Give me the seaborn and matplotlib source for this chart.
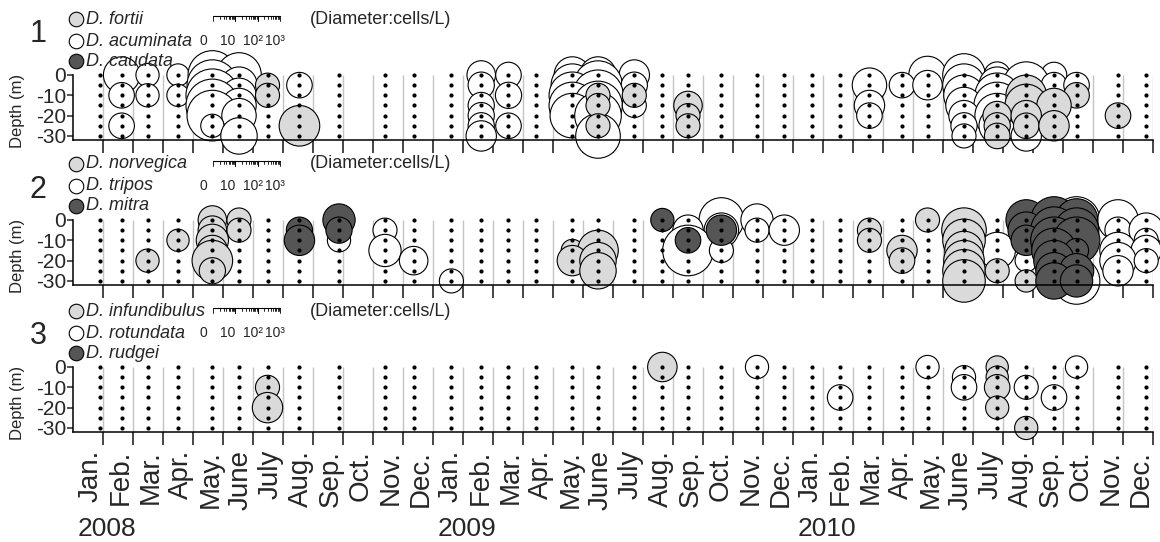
import pandas as pd
import matplotlib.pyplot as plt
from matplotlib.lines import Line2D
from matplotlib.transforms import blended_transform_factory
import numpy as np
import seaborn as sns

# sampling dates (same cruise schedule for all three panels)
sample_dates = ['2008-01-29', '2008-02-19', '2008-03-16', '2008-04-16', '2008-05-21',
                '2008-06-17', '2008-07-16', '2008-08-18', '2008-09-27', '2008-11-13',
                '2008-12-12', '2009-01-20', '2009-02-18', '2009-03-17', '2009-04-14',
                '2009-05-21', '2009-06-16', '2009-07-23', '2009-08-21', '2009-09-16',
                '2009-10-20', '2009-11-25', '2009-12-23', '2010-01-21', '2010-02-17',
                '2010-03-18', '2010-04-20', '2010-05-16', '2010-06-22', '2010-07-26',
                '2010-08-25', '2010-09-22', '2010-10-15', '2010-11-26', '2010-12-25']
sample_depths = [0, -5, -10, -15, -20, -25, -30]

month_labels = ['Jan.', 'Feb.', 'Mar.', 'Apr.', 'May.', 'June', 'July',
                'Aug.', 'Sep.', 'Oct.', 'Nov.', 'Dec.']
years = ['2008', '2009', '2010']
scale_labels = ['0', '10', '10\u00b2', '10\u00b3']
depth_ticks = [0, -10, -20, -30]

panel_names = ['1', '2', '3']
panel_species = [['D. fortii', 'D. acuminata', 'D. caudata'],
                 ['D. norvegica', 'D. tripos', 'D. mitra'],
                 ['D. infundibulus', 'D. rotundata', 'D. rudgei']]

# (date, depth m, cells/L)
fortii = [('2008-07-16', -5, 12), ('2008-07-16', -10, 12), ('2008-08-18', -25, 66),
          ('2009-06-16', -10, 12), ('2009-06-16', -15, 12), ('2009-06-16', -25, 12),
          ('2009-07-23', -10, 12),
          ('2009-09-16', -15, 19), ('2009-09-16', -20, 12), ('2009-09-16', -25, 12),
          ('2010-07-26', -20, 19), ('2010-07-26', -25, 15), ('2010-07-26', -30, 14),
          ('2010-08-25', -10, 66), ('2010-08-25', -15, 81), ('2010-08-25', -20, 23),
          ('2010-08-25', -25, 14),
          ('2010-09-22', -15, 35), ('2010-09-22', -25, 23),
          ('2010-10-15', -10, 14), ('2010-11-26', -20, 14)]
acuminata = [('2008-02-19', 0, 43), ('2008-02-19', -10, 14), ('2008-02-19', -25, 14),
             ('2008-03-16', 0, 11), ('2008-03-16', -10, 11),
             ('2008-04-16', 0, 10), ('2008-04-16', -10, 10),
             ('2008-05-21', 0, 152), ('2008-05-21', -5, 187), ('2008-05-21', -10, 232),
             ('2008-05-21', -15, 232), ('2008-05-21', -20, 187), ('2008-05-21', -25, 11),
             ('2008-06-17', 0, 100), ('2008-06-17', -5, 43), ('2008-06-17', -10, 35),
             ('2008-06-17', -15, 35), ('2008-06-17', -20, 35), ('2008-06-17', -30, 43),
             ('2008-08-18', -5, 14),
             ('2009-02-18', 0, 19), ('2009-02-18', -5, 15), ('2009-02-18', -15, 15),
             ('2009-02-18', -20, 15), ('2009-02-18', -25, 15), ('2009-02-18', -30, 23),
             ('2009-03-17', 0, 14), ('2009-03-17', -10, 15), ('2009-03-17', -25, 14),
             ('2009-05-21', 0, 43), ('2009-05-21', -5, 81), ('2009-05-21', -10, 123),
             ('2009-05-21', -15, 123), ('2009-05-21', -20, 100),
             ('2009-06-16', 0, 43), ('2009-06-16', -5, 152), ('2009-06-16', -10, 187),
             ('2009-06-16', -15, 152), ('2009-06-16', -20, 123), ('2009-06-16', -30, 100),
             ('2009-07-23', 0, 23), ('2009-07-23', -5, 15), ('2009-07-23', -15, 12),
             ('2010-03-18', -5, 35), ('2010-03-18', -15, 23), ('2010-03-18', -20, 14),
             ('2010-04-20', -5, 14),
             ('2010-05-16', 0, 48), ('2010-05-16', -5, 21),
             ('2010-06-22', 0, 81), ('2010-06-22', -5, 81), ('2010-06-22', -10, 66),
             ('2010-06-22', -15, 43), ('2010-06-22', -20, 23), ('2010-06-22', -25, 15),
             ('2010-06-22', -30, 12),
             ('2010-07-26', 0, 15), ('2010-07-26', -5, 43), ('2010-07-26', -10, 100),
             ('2010-07-26', -15, 123), ('2010-07-26', -20, 100), ('2010-07-26', -25, 43),
             ('2010-08-25', -5, 123), ('2010-08-25', -30, 23),
             ('2010-09-22', 0, 14), ('2010-09-22', -5, 14),
             ('2010-10-15', -5, 14)]
caudata = []

norvegica = [('2008-03-16', -20, 11), ('2008-04-16', -10, 10),
             ('2008-05-21', 0, 19), ('2008-05-21', -5, 19), ('2008-05-21', -10, 28),
             ('2008-05-21', -15, 23), ('2008-05-21', -20, 66), ('2008-05-21', -25, 15),
             ('2008-06-17', 0, 12), ('2008-06-17', -5, 12),
             ('2009-05-21', -15, 10), ('2009-05-21', -20, 23),
             ('2009-06-16', -15, 66), ('2009-06-16', -20, 43), ('2009-06-16', -25, 43),
             ('2010-03-18', -5, 12), ('2010-03-18', -10, 12),
             ('2010-04-20', -15, 23), ('2010-04-20', -20, 14),
             ('2010-05-16', 0, 12),
             ('2010-06-22', -5, 100), ('2010-06-22', -10, 81), ('2010-06-22', -15, 53),
             ('2010-06-22', -20, 66), ('2010-06-22', -25, 81), ('2010-06-22', -30, 81),
             ('2010-07-26', -25, 12), ('2010-08-25', -30, 10)]
tripos = [('2008-09-27', -10, 11), ('2008-11-13', -5, 12), ('2008-11-13', -15, 28),
          ('2008-12-12', -20, 19), ('2009-01-20', -30, 12),
          ('2009-09-16', -5, 23), ('2009-09-16', -15, 187),
          ('2009-10-20', 0, 100), ('2009-10-20', -5, 35), ('2009-10-20', -15, 12),
          ('2009-11-25', 0, 28), ('2009-11-25', -5, 12),
          ('2009-12-23', -5, 23),
          ('2010-07-26', -15, 43), ('2010-08-25', -20, 10),
          ('2010-09-22', -10, 350),
          ('2010-10-15', 0, 123), ('2010-10-15', -30, 123),
          ('2010-11-26', 0, 66), ('2010-11-26', -5, 15), ('2010-11-26', -15, 43),
          ('2010-11-26', -20, 43), ('2010-11-26', -25, 23),
          ('2010-12-25', -5, 35), ('2010-12-25', -10, 12), ('2010-12-25', -15, 23),
          ('2010-12-25', -20, 12)]
mitra = [('2008-08-18', -5, 15), ('2008-08-18', -10, 23),
         ('2008-09-27', 0, 28), ('2008-09-27', -5, 15),
         ('2009-08-21', 0, 11), ('2009-09-16', -10, 14), ('2009-10-20', -5, 23),
         ('2010-08-25', 0, 66), ('2010-08-25', -5, 43), ('2010-08-25', -10, 23),
         ('2010-09-22', 0, 123), ('2010-09-22', -5, 123), ('2010-09-22', -10, 123),
         ('2010-09-22', -15, 100), ('2010-09-22', -20, 66), ('2010-09-22', -25, 43),
         ('2010-09-22', -30, 43),
         ('2010-10-15', 0, 81), ('2010-10-15', -5, 100), ('2010-10-15', -10, 123),
         ('2010-10-15', -15, 12), ('2010-10-15', -25, 35), ('2010-10-15', -30, 28)]

infundibulus = [('2008-07-16', -10, 12), ('2008-07-16', -20, 23), ('2009-08-21', 0, 21),
                ('2010-07-26', 0, 10), ('2010-07-26', -5, 10), ('2010-07-26', -10, 14),
                ('2010-07-26', -20, 11), ('2010-08-25', -30, 11)]
rotundata = [('2009-11-25', 0, 11), ('2010-02-17', -15, 14), ('2010-05-16', 0, 11),
             ('2010-06-22', -5, 11), ('2010-06-22', -10, 14), ('2010-08-25', -10, 12),
             ('2010-09-22', -15, 14), ('2010-10-15', 0, 10)]
rudgei = []

panel_data = [[fortii, acuminata, caudata],
              [norvegica, tripos, mitra],
              [infundibulus, rotundata, rudgei]]

W, H, DPI = 1160, 542, 100
fill_colors = ['#dadada', 'white', '#555555']   # light, open, dark species
draw_rank = [1, 0, 2]                           # open circles drawn first
px_per_decade = 22.3                            # bubble diameter scale (px per log10 unit)


def month_pos(s):
    d = pd.Timestamp(s)
    return (d.year - 2008) * 12 + d.month - 1 + (d.day - 1) / d.days_in_month


def fx(x):
    return x / W


def fy(y):
    return 1 - y / H


sns.set_style('white')
plt.rcParams['font.family'] = ['Liberation Sans', 'DejaVu Sans']

fig = plt.figure(figsize=(W / DPI, H / DPI), dpi=DPI)
panel_tops = [75, 220, 367]
number_offsets = [41, 30, 31]

dots = pd.DataFrame([(month_pos(d), z) for d in sample_dates for z in sample_depths],
                    columns=['month', 'depth'])

for i, top in enumerate(panel_tops):
    ax = fig.add_axes([fx(73), fy(top + 65), 1080 / W, 65 / H])

    rows = []
    for k, recs in enumerate(panel_data[i]):
        for d, z, cells in recs:
            diam_pt = px_per_decade * np.log10(cells) * 72 / DPI
            rows.append((month_pos(d), z, panel_species[i][k], draw_rank[k], diam_pt ** 2))
    bub = pd.DataFrame(rows, columns=['month', 'depth', 'species', 'rank', 'area'])
    bub = bub.sort_values(['rank', 'depth'], ascending=[True, False])
    palette = dict(zip(panel_species[i], fill_colors))

    ax.vlines(np.arange(1, 37), -32, 0, color='#c4c4c4', lw=1.0, zorder=0)
    sns.scatterplot(data=bub, x='month', y='depth', hue='species', palette=palette,
                    size='area', sizes=(0, 6000), size_norm=(0, 6000),
                    edgecolor='black', linewidth=0.8, legend=False,
                    clip_on=False, zorder=2, ax=ax)
    sns.scatterplot(data=dots, x='month', y='depth', color='black', s=9,
                    linewidth=0, clip_on=False, zorder=3, ax=ax)

    ax.set_xlim(0, 36)
    ax.set_ylim(-32, 0)
    ax.set_xlabel('')
    ax.set_ylabel('Depth (m)', fontsize=12)
    ax.yaxis.set_label_coords(-0.044, 0.45)
    ax.set_yticks(depth_ticks)
    ax.set_yticklabels([str(t) for t in depth_ticks], fontsize=15)
    ax.tick_params(axis='y', direction='out', length=4, width=1.1, pad=1, left=True)
    ax.set_xticks(np.arange(1, 37))
    ax.set_xticklabels([])
    ax.tick_params(axis='x', which='major', direction='out', length=9.5, width=1.2, bottom=True)
    for side in ['top', 'right']:
        ax.spines[side].set_visible(False)
    for side in ['left', 'bottom']:
        ax.spines[side].set_color('black')
        ax.spines[side].set_linewidth(1.1)

    if i == 2:
        centers = np.arange(36) + 0.6
        ax.set_xticks(centers, minor=True)
        ax.set_xticklabels(month_labels * 3, minor=True, rotation=90, fontsize=20)
        ax.tick_params(axis='x', which='minor', length=0, pad=13)
        trans = blended_transform_factory(ax.transData, ax.transAxes)
        for j, yr in enumerate(years):
            ax.text(12 * j + 0.15, -1.5, yr, transform=trans, fontsize=19,
                    ha='left', va='center')

    # panel number and species key
    fig.text(fx(38), fy(top - number_offsets[i]), panel_names[i], fontsize=22,
             ha='center', va='center')
    for k, name in enumerate(panel_species[i]):
        yy = fy(top - [56, 34, 14][k])
        fig.add_artist(Line2D([fx(76)], [yy], marker='o', markersize=10.5,
                              markerfacecolor=fill_colors[k], markeredgecolor='black',
                              markeredgewidth=0.8, linestyle='none',
                              transform=fig.transFigure))
        fig.text(fx(86), yy, name, fontsize=13, style='italic', ha='left', va='center')

    # diameter scale bar
    x0, yb = 213, top - 59
    fig.add_artist(Line2D([fx(x0), fx(x0 + 3 * px_per_decade)], [fy(yb), fy(yb)],
                          color='black', lw=0.8, transform=fig.transFigure))
    for dec in range(3):
        for m in range(1, 11):
            xt = x0 + px_per_decade * (dec + np.log10(m))
            ln = 5 if m in (1, 10) else 2.5
            fig.add_artist(Line2D([fx(xt), fx(xt)], [fy(yb), fy(yb + ln)],
                                  color='black', lw=0.6, transform=fig.transFigure))
    for lab, xl in zip(scale_labels, [200, 220, 243, 265]):
        fig.text(fx(xl), fy(top - 34), lab, fontsize=10, ha='left', va='center')
    fig.text(fx(310), fy(top - 56), '(Diameter:cells/L)', fontsize=13,
             ha='left', va='center')

fig.savefig('out.png', dpi=DPI)
